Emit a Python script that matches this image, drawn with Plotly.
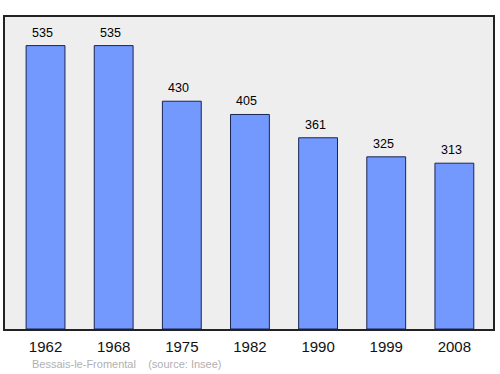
import plotly.graph_objects as go

years = ["1962", "1968", "1975", "1982", "1990", "1999", "2008"]
population = [535, 535, 430, 405, 361, 325, 313]

fig = go.Figure()
fig.add_trace(go.Bar(
    x=years, y=population, width=0.57,
    marker=dict(color="#7399ff", line=dict(color="#1a2550", width=1)),
    hoverinfo="skip",
))
for i, v in enumerate(population):
    fig.add_annotation(x=i, y=v, text=str(v), showarrow=False, yanchor="bottom",
                       yshift=4, xshift=-3, font=dict(family="Liberation Sans, Arial", size=12.5, color="#000"))

fig.add_annotation(xref="paper", yref="paper", x=0.052, y=-0.085, xanchor="left", yanchor="top",
                   text="Bessais-le-Fromental&nbsp;&nbsp;&nbsp;&nbsp;(source: Insee)", showarrow=False,
                   font=dict(family="Liberation Sans, Arial", size=11, color="#b0b0b0"))

fig.update_layout(
    width=500, height=374,
    margin=dict(l=5, r=5, t=17, b=45),
    paper_bgcolor="white", plot_bgcolor="#eeeeee",
    showlegend=False,
)
fig.update_xaxes(type="category", range=[-0.595, 6.567], showline=True, mirror=True, linecolor="#222",
                 linewidth=1.5, ticks="", showgrid=False, ticklabelstandoff=3,
                 tickfont=dict(family="Liberation Sans, Arial", size=15, color="#111"))
fig.update_yaxes(range=[0, 589], showline=True, mirror=True, linecolor="#222", linewidth=1.5,
                 showticklabels=False, showgrid=False, zeroline=False, ticks="")

fig.write_html("out.html")
